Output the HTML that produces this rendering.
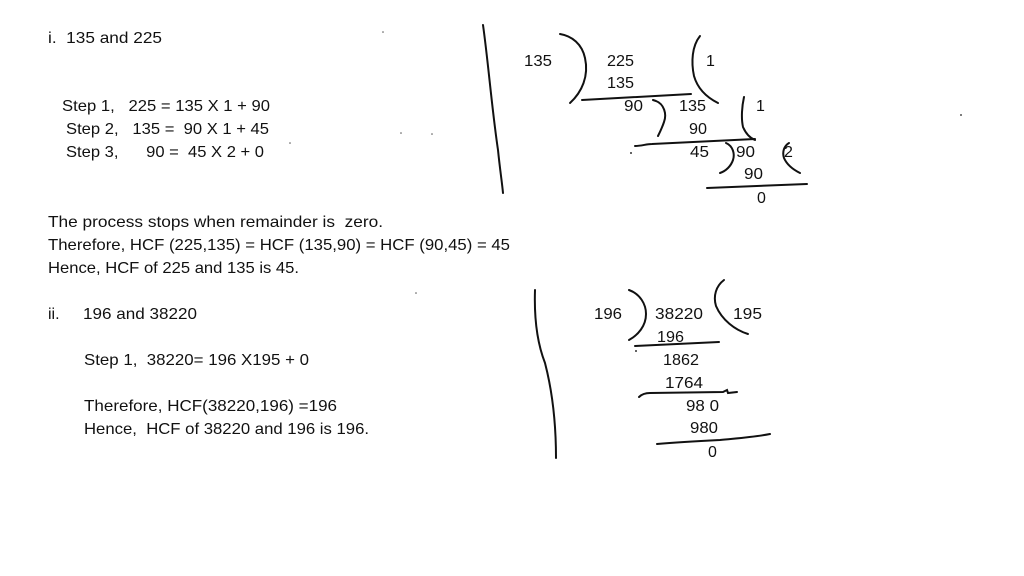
<!DOCTYPE html>
<html><head><meta charset="utf-8"><style>
html,body{margin:0;padding:0;background:#fff;}
svg{display:block;}
text{font-family:"Liberation Sans",sans-serif;font-size:16px;fill:#111;}
path,line{stroke:#111;stroke-width:2;fill:none;stroke-linecap:round;}
</style></head><body>
<svg width="1024" height="576" viewBox="0 0 1024 576" xmlns="http://www.w3.org/2000/svg">
<!-- left text -->
<text x="48" y="43" textLength="114" lengthAdjust="spacingAndGlyphs" xml:space="preserve">i.  135 and 225</text>
<text x="62" y="111" textLength="208" lengthAdjust="spacingAndGlyphs" xml:space="preserve">Step 1,   225 = 135 X 1 + 90</text>
<text x="66" y="134" textLength="203" lengthAdjust="spacingAndGlyphs" xml:space="preserve">Step 2,   135 =  90 X 1 + 45</text>
<text x="66" y="157" textLength="198" lengthAdjust="spacingAndGlyphs" xml:space="preserve">Step 3,      90 =  45 X 2 + 0</text>
<text x="48" y="227" textLength="335" lengthAdjust="spacingAndGlyphs" xml:space="preserve">The process stops when remainder is  zero.</text>
<text x="48" y="250" textLength="462" lengthAdjust="spacingAndGlyphs" xml:space="preserve">Therefore, HCF (225,135) = HCF (135,90) = HCF (90,45) = 45</text>
<text x="48" y="273" textLength="251" lengthAdjust="spacingAndGlyphs" xml:space="preserve">Hence, HCF of 225 and 135 is 45.</text>
<text x="48" y="319">ii.</text>
<text x="83" y="319" textLength="114" lengthAdjust="spacingAndGlyphs">196 and 38220</text>
<text x="84" y="365" textLength="225" lengthAdjust="spacingAndGlyphs" xml:space="preserve">Step 1,  38220= 196 X195 + 0</text>
<text x="84" y="411" textLength="253" lengthAdjust="spacingAndGlyphs">Therefore, HCF(38220,196) =196</text>
<text x="84" y="434" textLength="285" lengthAdjust="spacingAndGlyphs" xml:space="preserve">Hence,  HCF of 38220 and 196 is 196.</text>

<!-- tiny dots -->
<circle cx="383" cy="32" r="0.8" fill="#555"/>
<circle cx="401" cy="133" r="0.8" fill="#555"/>
<circle cx="432" cy="134" r="0.8" fill="#555"/>
<circle cx="290" cy="143" r="0.8" fill="#555"/>
<circle cx="961" cy="115" r="1" fill="#555"/>
<circle cx="416" cy="293" r="0.8" fill="#555"/>

<!-- first diagram -->
<path d="M483,25 C488,60 492,110 498,150 C500,170 502,182 503,193"/>
<text x="524" y="66" textLength="28" lengthAdjust="spacingAndGlyphs">135</text>
<path d="M560,34 C572,36 582,44 585,58 C589,76 582,92 570,103"/>
<text x="607" y="66" textLength="27" lengthAdjust="spacingAndGlyphs">225</text>
<text x="607" y="88" textLength="27" lengthAdjust="spacingAndGlyphs">135</text>
<path d="M582,100 L691,94"/>
<path d="M700,36 C692,46 691,62 694,76 C698,90 708,98 718,103"/>
<text x="706" y="66">1</text>
<text x="624" y="111" textLength="19" lengthAdjust="spacingAndGlyphs">90</text>
<path d="M653,100 L656,101 C664,104 667,114 664,122 C662,128 660,132 658,136"/>
<text x="679" y="111" textLength="27" lengthAdjust="spacingAndGlyphs">135</text>
<text x="689" y="134" textLength="18" lengthAdjust="spacingAndGlyphs">90</text>
<path d="M744,97 C742,106 741,118 743,127 C746,134 750,138 755,140"/>
<text x="756" y="111">1</text>
<path d="M635,146 C642,146 646,144 652,144 L755,139"/>
<circle cx="631" cy="153" r="1" fill="#333"/>
<text x="690" y="157" textLength="19" lengthAdjust="spacingAndGlyphs">45</text>
<path d="M726,143 C733,146 735,154 733,160 C731,166 726,171 720,173"/>
<text x="736" y="157" textLength="19" lengthAdjust="spacingAndGlyphs">90</text>
<path d="M789,143 C784,146 782,152 784,158 C787,165 794,170 800,173"/>
<text x="784" y="157">2</text>
<text x="744" y="179" textLength="19" lengthAdjust="spacingAndGlyphs">90</text>
<path d="M707,188 L807,184"/>
<text x="757" y="203">0</text>

<!-- second diagram -->
<path d="M535,290 C534,320 538,345 545,363 C552,390 556,420 556,458"/>
<text x="594" y="319" textLength="28" lengthAdjust="spacingAndGlyphs">196</text>
<path d="M629,290 C640,294 646,304 646,314 C646,326 638,335 629,340"/>
<text x="655" y="319" textLength="48" lengthAdjust="spacingAndGlyphs">38220</text>
<path d="M724,280 C716,286 713,296 716,306 C722,320 735,330 748,334"/>
<text x="733" y="319" textLength="29" lengthAdjust="spacingAndGlyphs">195</text>
<text x="657" y="342" textLength="27" lengthAdjust="spacingAndGlyphs">196</text>
<path d="M635,346 L719,342"/>
<circle cx="636" cy="351" r="1" fill="#333"/>
<text x="663" y="365" textLength="36" lengthAdjust="spacingAndGlyphs">1862</text>
<text x="665" y="388" textLength="38" lengthAdjust="spacingAndGlyphs">1764</text>
<path d="M639,397 C642,394 645,393 650,393 L723,392 L727,390 L728,393 L737,392"/>
<text x="686" y="411" textLength="33" lengthAdjust="spacingAndGlyphs" xml:space="preserve">98 0</text>
<text x="690" y="433" textLength="28" lengthAdjust="spacingAndGlyphs">980</text>
<path d="M657,444 C680,442 700,441 720,440 C740,438 755,437 770,434"/>
<text x="708" y="457">0</text>
</svg>
</body></html>
